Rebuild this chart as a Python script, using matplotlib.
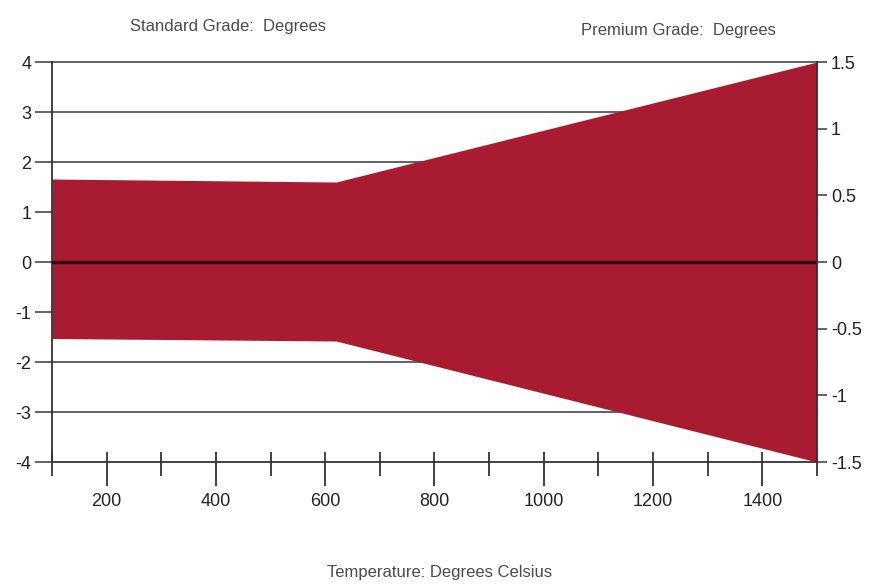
import numpy as np
import matplotlib
matplotlib.use('Agg')
import matplotlib.pyplot as plt

# tolerance band
temps = [100, 620, 1500]
upper = [1.66, 1.60, 4.0]
lower = [-1.53, -1.58, -4.0]

left_ticks = [-4, -3, -2, -1, 0, 1, 2, 3, 4]
right_ticks = [-1.5, -1, -0.5, 0, 0.5, 1, 1.5]
right_labels = ['-1.5', '-1', '-0.5', '0', '0.5', '1', '1.5']
x_major = [200, 400, 600, 800, 1000, 1200, 1400]
x_minor = [100, 300, 500, 700, 900, 1100, 1300, 1500]

band_color = '#a81b31'
grid_color = '#555555'
text_color = '#4a4a4a'

plt.rcParams['font.family'] = ['Liberation Sans', 'DejaVu Sans']

fig = plt.figure(figsize=(8.78, 5.84), dpi=100)
ax = fig.add_axes([0.0592, 0.2089, 0.8713, 0.6849])

ax.fill_between(temps, lower, upper, color=band_color, lw=0, zorder=2)

for y in left_ticks:
    if y in (-4, 0):
        continue
    ax.axhline(y, color=grid_color, lw=1.3, zorder=1, clip_on=False)
ax.axhline(0, color='#2a0a0e', lw=2.4, zorder=3)

ax.set_xlim(100, 1500)
ax.set_ylim(-4, 4)
ax.set_yticks(left_ticks)
ax.set_yticklabels([str(v) for v in left_ticks])
ax.set_xticks(x_major)
ax.set_xticklabels([str(v) for v in x_major])
ax.set_xticks(x_minor, minor=True)

ax.tick_params(axis='y', direction='out', length=12, width=1.3, color=grid_color,
               labelsize=13, pad=3, labelcolor='#222222')
ax.tick_params(axis='x', which='major', direction='out', length=17, width=1.3,
               color='#333333', labelsize=13, pad=5, labelcolor='#222222')
ax.tick_params(axis='x', which='minor', direction='out', length=10, width=1.3,
               color='#333333')

# inward part of the x ticks
sec = ax.secondary_xaxis('bottom')
sec.set_xticks(x_major + x_minor)
sec.tick_params(axis='x', direction='in', length=7, width=1.3, color='#333333',
                labelbottom=False)
sec.spines['bottom'].set_visible(False)

for s in ['top', 'right']:
    ax.spines[s].set_visible(False)
ax.spines['left'].set_color('#333333')
ax.spines['left'].set_linewidth(1.3)
ax.spines['bottom'].set_color('#333333')
ax.spines['bottom'].set_linewidth(1.3)
ax.spines['bottom'].set_zorder(4)

ax2 = ax.twinx()
ax2.set_ylim(-1.5, 1.5)
ax2.set_yticks(right_ticks)
ax2.set_yticklabels(right_labels)
ax2.tick_params(axis='y', direction='out', length=7, width=1.3, color=grid_color,
                labelsize=13, pad=3, labelcolor='#222222')
for s in ['top', 'left', 'bottom']:
    ax2.spines[s].set_visible(False)
ax2.spines['right'].set_color('#333333')
ax2.spines['right'].set_linewidth(1.3)

narrow = ['Liberation Sans Narrow', 'Liberation Sans', 'DejaVu Sans']
fig.text(228 / 878, 1 - 27 / 584, 'Standard Grade:  Degrees', ha='center', va='center',
         fontsize=12, color=text_color, family=narrow)
fig.text(678 / 878, 1 - 30 / 584, 'Premium Grade:  Degrees', ha='center', va='center',
         fontsize=12, color=text_color, family=narrow)
fig.text(440 / 878, 1 - 572 / 584, 'Temperature: Degrees Celsius', ha='center', va='center',
         fontsize=12, color=text_color, family=narrow)

fig.savefig('out.png', dpi=100)
